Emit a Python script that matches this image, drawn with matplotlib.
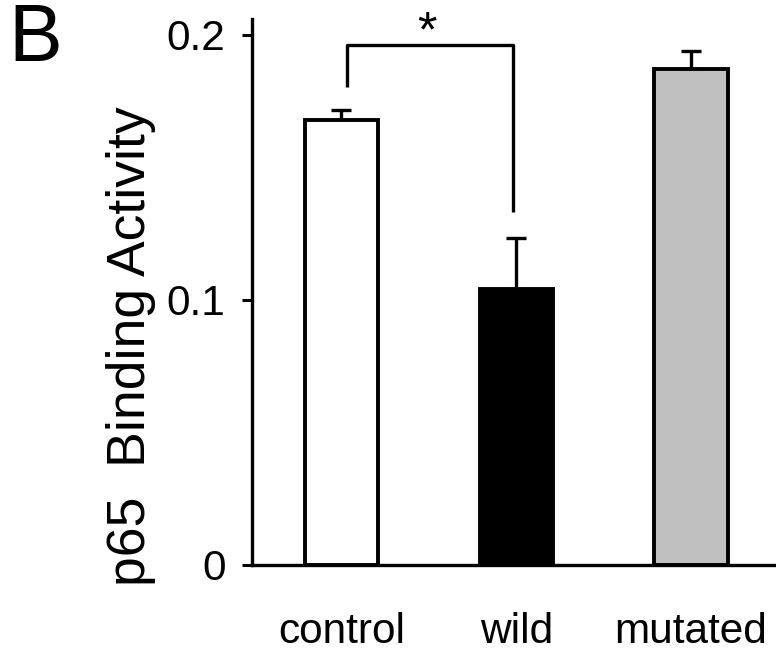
import matplotlib
matplotlib.use("Agg")
import matplotlib.pyplot as plt

categories = ["control", "wild", "mutated"]
values = [0.168, 0.1042, 0.1872]
errors = [0.0038, 0.0192, 0.0068]
colors = ["#ffffff", "#000000", "#c0c0c0"]
yticks = [0, 0.1, 0.2]
ytick_labels = ["0", "0.1", "0.2"]

plt.rcParams['font.family'] = ['Liberation Sans', 'DejaVu Sans']

fig = plt.figure(figsize=(7.76, 6.56), dpi=100)
ax = fig.add_axes([252/776, 91/656, (776-252)/776, (565-19)/656])

x = list(range(len(categories)))
ax.bar(x, values, width=0.42, color=colors, edgecolor="black", linewidth=2.8, zorder=2)
ax.errorbar(x, values, yerr=[[0]*3, errors], fmt="none", ecolor="black",
            elinewidth=2.4, capsize=7, capthick=2.4, zorder=1)

ax.set_xlim(-0.512, 2.486)
ax.set_ylim(0, 0.206)
ax.set_yticks(yticks)
ax.set_yticklabels(ytick_labels, fontsize=30.5)
ax.set_xticks(x)
ax.set_xticklabels(categories, fontsize=30.5)
ax.tick_params(axis='y', direction='out', length=7, width=2.2, pad=12)
ax.tick_params(axis='x', length=0, pad=34)
for s in ["top", "right"]:
    ax.spines[s].set_visible(False)
ax.spines["left"].set_linewidth(2.4)
ax.spines["bottom"].set_linewidth(2.4)

fig.text(131/776, 1 - 346/656, "p65  Binding Activity", fontsize=38.5,
         rotation=90, ha="center", va="center")

# significance bracket
bx = [0.03, 0.03, 0.98, 0.98]
by = [0.1804, 0.1962, 0.1962, 0.1332]
ax.plot(bx, by, color="black", linewidth=2.4, clip_on=False, solid_capstyle="butt")
ax.text(0.49, 0.2005, "*", fontsize=36, ha="center", va="center")

fig.text(8/776, 1 - 40/656, "B", fontsize=58, ha="left", va="center")

fig.savefig("out.png", dpi=100)
